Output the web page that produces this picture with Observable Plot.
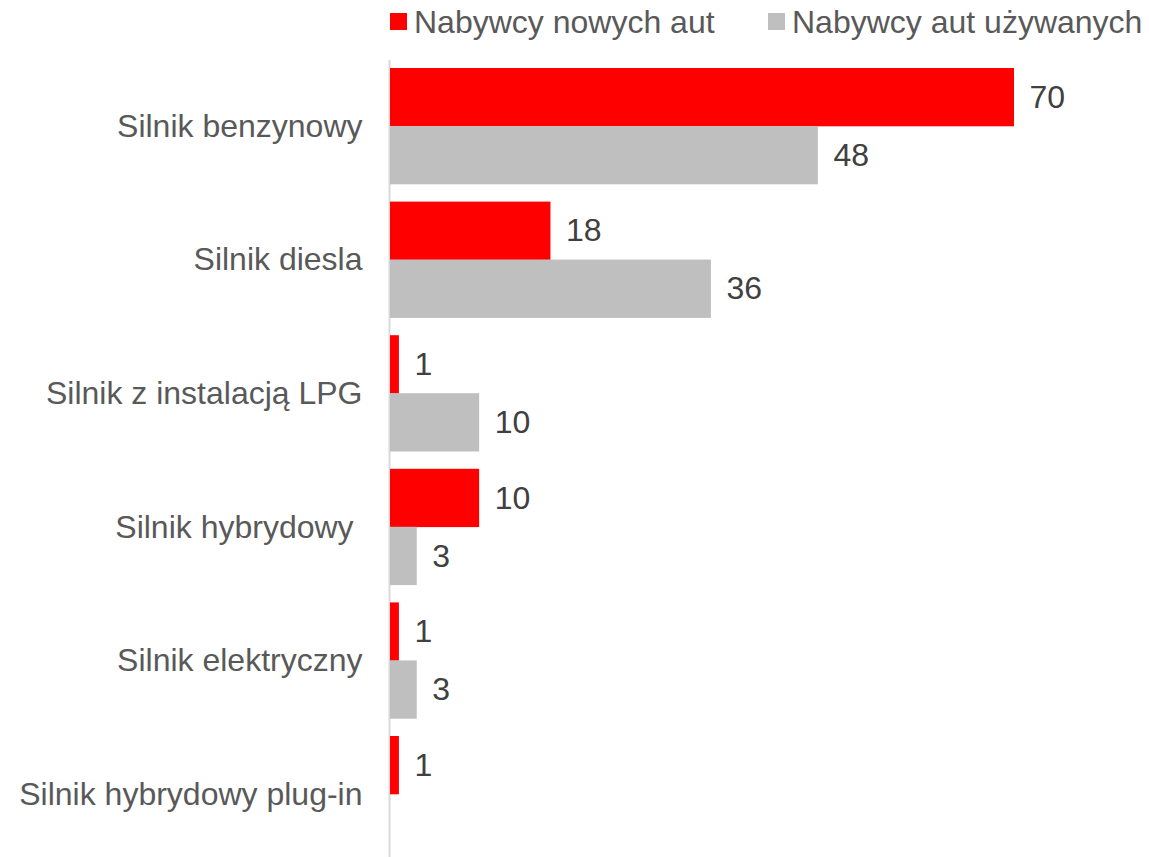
<!DOCTYPE html>
<html><head><meta charset="utf-8">
<script src="https://cdn.jsdelivr.net/npm/d3@7"></script>
<script src="https://cdn.jsdelivr.net/npm/@observablehq/plot@0.6"></script>
<style>
body{margin:0;background:#fff;font-family:"Liberation Sans",Arial,sans-serif;}
#wrap{position:relative;width:1149px;height:857px;overflow:hidden;}
#chart{position:absolute;left:0;top:0;}
.sw{position:absolute;width:17px;height:17px;top:13px;}
.lt{position:absolute;top:6px;font-size:32px;line-height:32px;color:#595959;white-space:nowrap;}
</style></head><body>
<div id="wrap"><div id="chart"></div><div id="legend"></div></div>
<script>
const categories = ["Silnik benzynowy","Silnik diesla","Silnik z instalacją LPG","Silnik hybrydowy\u00a0","Silnik elektryczny","Silnik hybrydowy plug-in"];
const seriesNames = ["Nabywcy nowych aut","Nabywcy aut używanych"];
const newBuyers = [70,18,1,10,1,1];
const usedBuyers = [48,36,10,3,3,null];
const seriesColors = ["#ff0000","#bfbfbf"];

const newData = categories.map((c,i)=>({category:c, series:seriesNames[0], value:newBuyers[i]}));
const usedData = categories.map((c,i)=>({category:c, series:seriesNames[1], value:usedBuyers[i]})).filter(d=>d.value!=null);

const chart = Plot.plot({
  width:1149, height:857,
  marginLeft:390, marginRight:135, marginTop:60, marginBottom:0,
  style:{fontFamily:'"Liberation Sans",Arial,sans-serif', fontSize:"32px", color:"#595959", background:"transparent", overflow:"visible"},
  x:{domain:[0,70], axis:null},
  y:{domain:categories, round:false, paddingInner:0.1295, paddingOuter:0.0475, align:0.63, tickSize:0, tickPadding:28, label:null},
  marks:[
    Plot.ruleX([0],{stroke:"#d9d9d9", strokeWidth:2, dx:-1}),
    Plot.barX(newData,{x:"value", y:"category", fill:seriesColors[0], insetBottom:58}),
    Plot.barX(usedData,{x:"value", y:"category", fill:seriesColors[1], insetTop:58}),
    Plot.text(newData,{x:"value", y:"category", text:d=>String(d.value), dy:-29, dx:15, textAnchor:"start", fill:"#404040"}),
    Plot.text(usedData,{x:"value", y:"category", text:d=>String(d.value), dy:29, dx:15, textAnchor:"start", fill:"#404040"})
  ]
});
document.getElementById("chart").appendChild(chart);

const legend = document.getElementById("legend");
const legendX = [390, 768];
seriesNames.forEach((name,i)=>{
  const sw = document.createElement("div");
  sw.className="sw"; sw.style.left=legendX[i]+"px"; sw.style.background=seriesColors[i];
  const t = document.createElement("div");
  t.className="lt"; t.style.left=(legendX[i]+24)+"px"; t.textContent=name;
  legend.appendChild(sw); legend.appendChild(t);
});
</script>
</body></html>
